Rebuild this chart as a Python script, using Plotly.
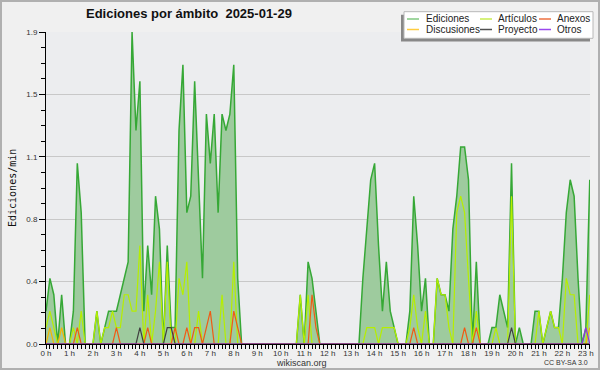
import plotly.graph_objects as go

# ---------------- data (10-minute bins, edits per minute) ----------------
hour_labels = ["0 h", "1 h", "2 h", "3 h", "4 h", "5 h", "6 h", "7 h", "8 h", "9 h",
               "10 h", "11 h", "12 h", "13 h", "14 h", "15 h", "16 h", "17 h", "18 h",
               "19 h", "20 h", "21 h", "22 h", "23 h"]
y_tick_labels = ["0.0", "0.4", "0.8", "1.1", "1.5", "1.9"]
y_max = 1.9

ediciones = [
    0.2, 0.4, 0.3, 0.0, 0.3, 0.0,   # 0 h
    0.0, 0.2, 1.1, 0.8, 0.0, 0.0,   # 1 h
    0.0, 0.2, 0.0, 0.1, 0.2, 0.2,   # 2 h
    0.2, 0.3, 0.4, 0.5, 1.9, 1.3,   # 3 h
    1.6, 0.2, 0.6, 0.3, 0.9, 0.7,   # 4 h
    0.0, 0.6, 0.1, 0.1, 1.3, 1.7,   # 5 h
    0.8, 0.9, 1.6, 1.0, 0.4, 1.4,   # 6 h
    1.1, 1.4, 0.8, 1.4, 1.3, 1.4,   # 7 h
    1.7, 0.4, 0.0, 0.0, 0.0, 0.0,   # 8 h
    0.0, 0.0, 0.0, 0.0, 0.0, 0.0,   # 9 h
    0.0, 0.0, 0.0, 0.0, 0.0, 0.3,   # 10 h
    0.0, 0.5, 0.4, 0.2, 0.0, 0.0,   # 11 h
    0.0, 0.0, 0.0, 0.0, 0.0, 0.0,   # 12 h
    0.0, 0.0, 0.0, 0.4, 0.7, 1.0,   # 13 h
    1.1, 0.6, 0.2, 0.5, 0.2, 0.1,   # 14 h
    0.0, 0.0, 0.0, 0.2, 0.9, 0.6,   # 15 h
    0.2, 0.4, 0.0, 0.0, 0.4, 0.3,   # 16 h
    0.3, 0.2, 0.7, 0.9, 1.2, 1.2,   # 17 h
    1.0, 0.0, 0.5, 0.0, 0.0, 0.0,   # 18 h
    0.1, 0.1, 0.3, 0.2, 0.1, 1.1,   # 19 h
    0.0, 0.1, 0.0, 0.0, 0.0, 0.2,   # 20 h
    0.2, 0.0, 0.1, 0.2, 0.1, 0.1,   # 21 h
    0.4, 0.8, 1.0, 0.9, 0.4, 0.0,   # 22 h
    0.1, 1.0,                       # 23 h
]
articulos = [
    0.1, 0.2, 0.1, 0.0, 0.0, 0.0,
    0.0, 0.1, 0.0, 0.2, 0.0, 0.0,
    0.0, 0.2, 0.0, 0.1, 0.1, 0.2,
    0.1, 0.1, 0.3, 0.3, 0.2, 0.2,
    0.6, 0.0, 0.3, 0.0, 0.2, 0.5,
    0.0, 0.5, 0.0, 0.0, 0.4, 0.3,
    0.5, 0.0, 0.0, 0.2, 0.0, 0.0,
    0.0, 0.0, 0.0, 0.3, 0.0, 0.0,
    0.5, 0.0, 0.0, 0.0, 0.0, 0.0,
    0.0, 0.0, 0.0, 0.0, 0.0, 0.0,
    0.0, 0.0, 0.0, 0.0, 0.0, 0.3,
    0.0, 0.3, 0.0, 0.0, 0.0, 0.0,
    0.0, 0.0, 0.0, 0.0, 0.0, 0.0,
    0.0, 0.0, 0.0, 0.0, 0.1, 0.1,
    0.1, 0.0, 0.1, 0.1, 0.1, 0.1,
    0.0, 0.0, 0.0, 0.1, 0.3, 0.1,
    0.0, 0.2, 0.0, 0.0, 0.4, 0.3,
    0.3, 0.1, 0.0, 0.8, 0.9, 0.8,
    0.4, 0.0, 0.2, 0.0, 0.0, 0.0,
    0.0, 0.1, 0.0, 0.0, 0.0, 0.9,
    0.0, 0.0, 0.0, 0.0, 0.0, 0.0,
    0.2, 0.0, 0.1, 0.2, 0.1, 0.1,
    0.0, 0.4, 0.3, 0.3, 0.0, 0.0,
    0.0, 0.3,
]
anexos = [
    0.0, 0.0, 0.0, 0.0, 0.0, 0.0,
    0.0, 0.0, 0.1, 0.0, 0.0, 0.0,
    0.0, 0.0, 0.0, 0.0, 0.0, 0.0,
    0.1, 0.0, 0.0, 0.0, 0.0, 0.0,
    0.0, 0.0, 0.1, 0.0, 0.0, 0.0,
    0.0, 0.0, 0.0, 0.1, 0.0, 0.0,
    0.1, 0.0, 0.1, 0.1, 0.0, 0.1,
    0.2, 0.0, 0.0, 0.0, 0.0, 0.0,
    0.2, 0.1, 0.0, 0.0, 0.0, 0.0,
    0.0, 0.0, 0.0, 0.0, 0.0, 0.0,
    0.0, 0.0, 0.0, 0.0, 0.0, 0.0,
    0.0, 0.0, 0.3, 0.1, 0.0, 0.0,
    0.0, 0.0, 0.0, 0.0, 0.0, 0.0,
    0.0, 0.0, 0.0, 0.0, 0.0, 0.0,
    0.0, 0.0, 0.0, 0.0, 0.0, 0.0,
    0.0, 0.0, 0.0, 0.0, 0.1, 0.0,
    0.0, 0.0, 0.0, 0.0, 0.0, 0.0,
    0.0, 0.0, 0.0, 0.0, 0.0, 0.1,
    0.0, 0.0, 0.1, 0.0, 0.0, 0.0,
    0.0, 0.0, 0.0, 0.0, 0.0, 0.0,
    0.0, 0.0, 0.0, 0.0, 0.0, 0.0,
    0.0, 0.0, 0.0, 0.0, 0.0, 0.0,
    0.0, 0.0, 0.0, 0.0, 0.0, 0.0,
    0.0, 0.0,
]
discusiones = [0.0, 0.1, 0.0, 0.0, 0.1] + [0.0] * 134 + [0.1]
proyecto = [0.0] * 140
for _i in (24, 31, 32, 119):
    proyecto[_i] = 0.1
otros = [0.0] * 140
otros[138] = 0.1

series_names = ["Ediciones", "Artículos", "Anexos", "Discusiones", "Proyecto", "Otros"]
series_values = [ediciones, articulos, anexos, discusiones, proyecto, otros]

# ---------------- styling ----------------
line_colors = {"Ediciones": "#36a836", "Artículos": "#b6ee00", "Anexos": "#f05a14",
               "Discusiones": "#f6b400", "Proyecto": "#404040", "Otros": "#9030e8"}
legend_colors = {"Ediciones": "#80c880", "Artículos": "#c8ec50", "Anexos": "#ee7040",
                 "Discusiones": "#ffcc40", "Proyecto": "#505050", "Otros": "#9a48ee"}
draw_order = ["Ediciones", "Artículos", "Discusiones", "Anexos", "Proyecto", "Otros"]

W, H = 600, 370
L, R, T, B = 46, 590, 32, 344          # plot area in pixels
STEP = 3.912                            # pixels per 10-minute bin

x_hours = [i / 6 for i in range(len(ediciones))]
x_end = (R - L) / STEP / 6

def xp(px):
    return (px - L) / (R - L)

def yp(py):
    return (B - py) / (B - T)

fig = go.Figure()
for name in draw_order:
    vals = series_values[series_names.index(name)]
    if name == "Ediciones":
        fig.add_trace(go.Scatter(x=x_hours, y=vals, mode="lines", fill="tozeroy",
                                 fillcolor="#9ecb9e",
                                 line=dict(color=line_colors[name], width=1.5),
                                 showlegend=False, name=name))
    else:
        fig.add_trace(go.Scatter(x=x_hours, y=vals, mode="lines",
                                 line=dict(color=line_colors[name], width=1.2),
                                 showlegend=False, name=name))

tick_font = dict(family="Liberation Sans, Arial, sans-serif", size=8, color="#333333")

fig.update_layout(
    width=W, height=H,
    margin=dict(l=L, r=W - R, t=T, b=H - B, pad=0, autoexpand=False),
    paper_bgcolor="#f0f0f0", plot_bgcolor="#ecedef",
    showlegend=False,
    xaxis=dict(range=[0, x_end], tickmode="array",
               tickvals=list(range(len(hour_labels))), ticktext=hour_labels,
               ticks="outside", ticklen=4, tickwidth=1, tickcolor="black",
               ticklabelstandoff=-3,
               minor=dict(tickvals=x_hours, ticks="outside", ticklen=4,
                          tickcolor="black", showgrid=False),
               showgrid=False, zeroline=False, showline=True, linecolor="black",
               linewidth=1, tickfont=tick_font),
    yaxis=dict(range=[0, y_max], tickmode="array",
               tickvals=[y_max * k / 5 for k in range(6)], ticktext=y_tick_labels,
               ticks="outside", ticklen=6, tickwidth=1, tickcolor="black",
               minor=dict(tickvals=[y_max * k / 20 for k in range(21)], ticks="outside",
                          ticklen=4, tickcolor="black", showgrid=False),
               showgrid=True, gridcolor="#c8c8c8", gridwidth=1,
               zeroline=False, showline=True, linecolor="black", linewidth=1,
               tickfont=tick_font),
)

shapes = []
annotations = []
# outer border of the image
shapes.append(dict(type="rect", xref="paper", yref="paper",
                   x0=xp(1), x1=xp(W - 1), y0=yp(1), y1=yp(H - 1),
                   line=dict(color="#b0b0b0", width=2), fillcolor="rgba(0,0,0,0)"))

# title
annotations.append(dict(text="<b>Ediciones por ámbito\u00a0\u00a02025-01-29</b>",
                        xref="paper", yref="paper", x=xp(189), y=yp(14),
                        xanchor="center", yanchor="middle", showarrow=False,
                        font=dict(family="Liberation Sans, Arial, sans-serif",
                                  size=13, color="#111111")))
# y-axis title
annotations.append(dict(text="Ediciones/min", xref="paper", yref="paper",
                        x=xp(12), y=yp(188), textangle=-90,
                        xanchor="center", yanchor="middle", showarrow=False,
                        font=dict(family="DejaVu Sans Mono, monospace", size=10,
                                  color="#111111")))
# footer texts
annotations.append(dict(text="wikiscan.org", xref="paper", yref="paper",
                        x=xp(301), y=yp(362.5), xanchor="center", yanchor="middle",
                        showarrow=False,
                        font=dict(family="Liberation Sans, Arial, sans-serif",
                                  size=9, color="#333333")))
annotations.append(dict(text="CC BY-SA 3.0", xref="paper", yref="paper",
                        x=xp(590), y=yp(362.5), xanchor="right", yanchor="middle",
                        showarrow=False,
                        font=dict(family="Liberation Sans, Arial, sans-serif",
                                  size=7, color="#333333")))

# legend box with shadow
shapes.append(dict(type="rect", xref="paper", yref="paper",
                   x0=xp(401), x1=xp(590), y0=yp(41.5), y1=yp(14.7),
                   line=dict(width=0), fillcolor="#888888"))
shapes.append(dict(type="rect", xref="paper", yref="paper",
                   x0=xp(404), x1=xp(593), y0=yp(38.3), y1=yp(11.7),
                   line=dict(color="#b8b8b8", width=1), fillcolor="#ffffff"))
col_swatch = [(407, 419), (480, 492), (539, 551)]
col_text = [424, 496, 555]
row_y = [19, 29.5]
for k, name in enumerate(series_names):
    r, c = divmod(k, 3)
    sx0, sx1 = col_swatch[c]
    shapes.append(dict(type="line", xref="paper", yref="paper",
                       x0=xp(sx0), x1=xp(sx1), y0=yp(row_y[r]), y1=yp(row_y[r]),
                       line=dict(color=legend_colors[name], width=1.5)))
    annotations.append(dict(text=name, xref="paper", yref="paper",
                            x=xp(col_text[c]), y=yp(row_y[r]),
                            xanchor="left", yanchor="middle", showarrow=False,
                            font=dict(family="Liberation Sans, Arial, sans-serif",
                                      size=10, color="#222222")))

fig.update_layout(shapes=shapes, annotations=annotations)
fig.write_html("out.html",
               config={"displayModeBar": False, "staticPlot": True},
               post_script="document.body.style.margin='0';"
                           "document.body.style.overflow='hidden';")
